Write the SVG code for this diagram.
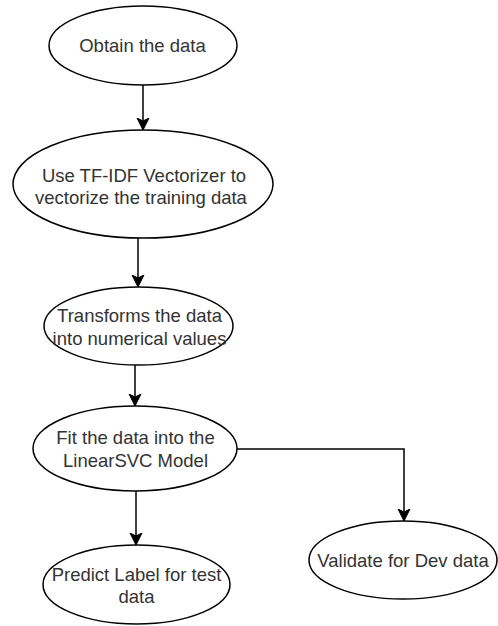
<svg xmlns="http://www.w3.org/2000/svg" width="498" height="626" viewBox="0 0 498 626">
<style>
.node ellipse{fill:#ffffff;stroke:#000000;stroke-width:1.5}
.node text{font-family:"Liberation Sans",Arial,sans-serif;font-size:18.5px;fill:#333333;text-anchor:middle}
.edge{fill:none;stroke:#000000;stroke-width:1.5}
</style>
<defs>
<marker id="arrow" markerUnits="userSpaceOnUse" markerWidth="12" markerHeight="14" viewBox="0 0 12 14" refX="12" refY="7" orient="auto">
<path d="M0,1 L12,7 L0,13 L3,7 Z" fill="#000000" stroke="#000000" stroke-width="1"/>
</marker>
</defs>
<rect width="498" height="626" fill="#ffffff"/>
<g id="connectors">
<path class="edge" d="M143,85 V130" marker-end="url(#arrow)"/>
<path class="edge" d="M138,238 V287" marker-end="url(#arrow)"/>
<path class="edge" d="M135,365 V406" marker-end="url(#arrow)"/>
<path class="edge" d="M136,491 V545" marker-end="url(#arrow)"/>
<path class="edge" d="M237,449 H404 V521" marker-end="url(#arrow)"/>
</g>
<g id="node-obtain" class="node">
<ellipse cx="143" cy="45.5" rx="94" ry="39.5"/>
<text x="142.5" y="52">Obtain the data</text>
</g>
<g id="node-tfidf" class="node">
<ellipse cx="143" cy="184" rx="130" ry="54"/>
<text x="144" y="182">Use TF-IDF Vectorizer to</text>
<text x="141" y="204">vectorize the training data</text>
</g>
<g id="node-transform" class="node">
<ellipse cx="138.5" cy="326" rx="94.5" ry="39"/>
<text x="139.5" y="322">Transforms the data</text>
<text x="139.5" y="345">into numerical values</text>
</g>
<g id="node-fit" class="node">
<ellipse cx="135" cy="448.5" rx="102" ry="42.5"/>
<text x="135.5" y="444">Fit the data into the</text>
<text x="135.5" y="467">LinearSVC Model</text>
</g>
<g id="node-predict" class="node">
<ellipse cx="136.5" cy="584.5" rx="93.5" ry="39.5"/>
<text x="136.5" y="581">Predict Label for test</text>
<text x="136.5" y="603">data</text>
</g>
<g id="node-validate" class="node">
<ellipse cx="403" cy="560" rx="94" ry="39"/>
<text x="403" y="567">Validate for Dev data</text>
</g>
</svg>
